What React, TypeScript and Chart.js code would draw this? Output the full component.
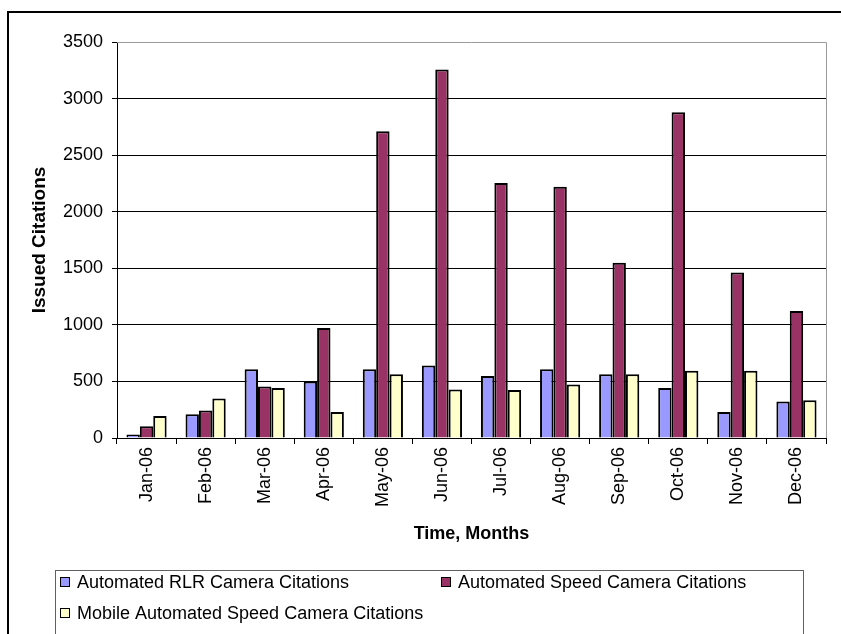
import { useEffect, useRef } from "react";
import { Chart, registerables } from "chart.js";

Chart.register(...registerables);

// Monthly citation counts for 2006
const months = [
  "Jan-06", "Feb-06", "Mar-06", "Apr-06", "May-06", "Jun-06",
  "Jul-06", "Aug-06", "Sep-06", "Oct-06", "Nov-06", "Dec-06",
];
const rlrCitations = [30, 210, 608, 500, 608, 641, 549, 608, 564, 443, 230, 322];
const speedCitations = [104, 243, 455, 972, 2711, 3257, 2253, 2221, 1550, 2879, 1462, 1122];
const mobileCitations = [195, 349, 443, 230, 564, 429, 425, 473, 564, 594, 594, 334];

const seriesNames = [
  "Automated RLR Camera Citations",
  "Automated Speed Camera Citations",
  "Mobile Automated Speed Camera Citations",
];
const seriesColors = ["#9999FF", "#993366", "#FFFFCC"];

const yMax = 3500;
const yStep = 500;

const FONT = "'Liberation Sans', Arial, sans-serif";

// Frame around the whole figure, plot border and a boxed legend below the axis
const decorations = {
  id: "decorations",
  beforeDraw(chart: any) {
    const ctx = chart.ctx;
    ctx.save();
    ctx.fillStyle = "#ffffff";
    ctx.fillRect(0, 0, chart.width, chart.height);
    ctx.restore();
  },
  afterDraw(chart: any) {
    const ctx = chart.ctx;
    const { left, top, right, bottom } = chart.chartArea;
    ctx.save();

    // plot area border (top and right)
    ctx.strokeStyle = "#9a9a9a";
    ctx.lineWidth = 1;
    ctx.beginPath();
    ctx.moveTo(left, Math.round(top) + 0.5);
    ctx.lineTo(Math.round(right) + 0.5, Math.round(top) + 0.5);
    ctx.lineTo(Math.round(right) + 0.5, bottom);
    ctx.stroke();

    // outer frame
    ctx.strokeStyle = "#000000";
    ctx.lineWidth = 2;
    ctx.strokeRect(8, 12, 1000, 1000);

    // legend box
    ctx.strokeStyle = "#606060";
    ctx.lineWidth = 1;
    ctx.strokeRect(55.5, 570.5, 748, 100);

    const items = [
      { x: 60, y: 582 },
      { x: 441, y: 582 },
      { x: 60, y: 613 },
    ];
    ctx.font = `18px ${FONT}`;
    ctx.textBaseline = "middle";
    ctx.textAlign = "left";
    chart.data.datasets.forEach((ds: any, i: number) => {
      const it = items[i];
      ctx.fillStyle = ds.backgroundColor;
      ctx.fillRect(it.x + 0.5, it.y - 4.5, 9, 9);
      ctx.strokeStyle = "#000000";
      ctx.lineWidth = 1;
      ctx.strokeRect(it.x + 0.5, it.y - 4.5, 9, 9);
      ctx.fillStyle = "#000000";
      ctx.fillText(ds.label, it.x + 17, it.y + 1);
    });

    ctx.restore();
  },
};

export default function App() {
  const canvasRef = useRef<HTMLCanvasElement | null>(null);

  useEffect(() => {
    const canvas = canvasRef.current;
    if (!canvas) return;
    const data = [rlrCitations, speedCitations, mobileCitations];
    const chart = new Chart(canvas, {
      type: "bar",
      data: {
        labels: months,
        datasets: data.map((values, i) => ({
          label: seriesNames[i],
          data: values,
          backgroundColor: seriesColors[i],
          borderColor: "#000000",
          borderWidth: 2,
          categoryPercentage: 0.68,
          barPercentage: 1,
        })),
      },
      options: {
        responsive: false,
        animation: false,
        devicePixelRatio: 1,
        layout: { padding: { left: 0, top: 42, right: 15, bottom: 86 } },
        plugins: {
          legend: { display: false },
          tooltip: { enabled: false },
        },
        scales: {
          x: {
            afterFit: (scale: any) => {
              scale.height = 110;
            },
            grid: {
              offset: true,
              drawOnChartArea: false,
              drawTicks: true,
              tickLength: 6,
              color: "#000000",
            },
            border: { color: "#000000", width: 1 },
            ticks: {
              minRotation: 90,
              maxRotation: 90,
              padding: 3,
              color: "#000000",
              font: { family: FONT, size: 18 },
            },
            title: {
              display: true,
              text: "Time, Months",
              color: "#000000",
              font: { family: FONT, size: 18, weight: "bold" },
              padding: { top: 0, bottom: 3 },
            },
          },
          y: {
            min: 0,
            max: yMax,
            afterFit: (scale: any) => {
              scale.width = 117;
            },
            grid: {
              color: (c: any) => (c.tick && c.tick.value === yMax ? "rgba(0,0,0,0)" : "#000000"),
              tickColor: "#000000",
              tickLength: 5,
              lineWidth: 1,
            },
            border: { color: "#000000", width: 1 },
            ticks: {
              stepSize: yStep,
              padding: 9,
              color: "#000000",
              font: { family: FONT, size: 18 },
              callback: (value: any) => String(value),
            },
            title: {
              display: true,
              text: "Issued Citations",
              color: "#000000",
              font: { family: FONT, size: 19, weight: "bold" },
              padding: { top: 28, bottom: 0 },
            },
          },
        },
      },
      plugins: [decorations],
    });
    return () => chart.destroy();
  }, []);

  return (
    <div style={{ position: "fixed", left: 0, top: 0, width: 841, height: 634, background: "#fff" }}>
      <canvas ref={canvasRef} width={841} height={634} style={{ display: "block" }} />
    </div>
  );
}
